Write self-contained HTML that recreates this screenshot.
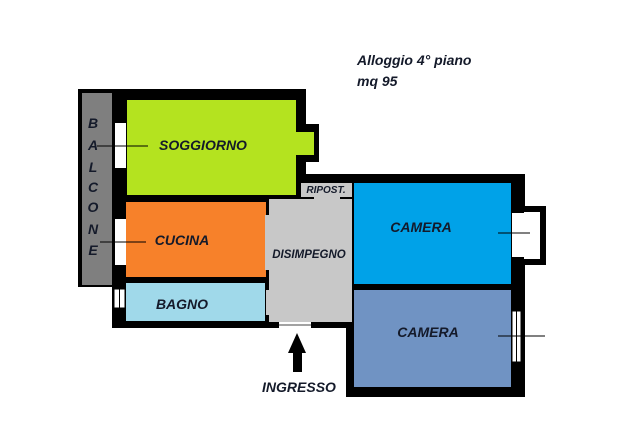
<!DOCTYPE html>
<html><head><style>
html,body{margin:0;padding:0;background:#fff;}
svg{display:block;}
text{font-family:"Liberation Sans",sans-serif;font-weight:bold;font-style:italic;fill:#141a2a;}
</style></head><body>
<svg width="620" height="444" viewBox="0 0 620 444" xmlns="http://www.w3.org/2000/svg">
<rect x="78" y="89" width="36" height="198" fill="#000"/>
<rect x="82" y="93" width="30" height="192" fill="#7f7f7f"/>
<rect x="112" y="89" width="194" height="239" fill="#000"/>
<rect x="296" y="124" width="23" height="38" fill="#000"/>
<rect x="296" y="89" width="10" height="110" fill="#000"/>
<rect x="127" y="100" width="169" height="95" fill="#b4e31f"/>
<rect x="290" y="132" width="24" height="23" fill="#b4e31f"/>
<rect x="126" y="202" width="140" height="75" fill="#f7812a"/>
<rect x="126" y="283" width="139" height="38" fill="#a0d9ea"/>
<rect x="306" y="174" width="219" height="25" fill="#000"/>
<rect x="346" y="174" width="179" height="223" fill="#000"/>
<rect x="301" y="183" width="51" height="14" fill="#c8c8c8"/>
<rect x="314" y="197" width="26" height="2" fill="#c8c8c8"/>
<rect x="269" y="199" width="83" height="123" fill="#c8c8c8"/>
<rect x="265" y="215" width="4" height="55" fill="#c8c8c8"/>
<rect x="266" y="290" width="3" height="25" fill="#c8c8c8"/>
<rect x="349" y="199" width="3" height="22" fill="#c8c8c8"/>
<rect x="354" y="183" width="157" height="101" fill="#00a2e8"/>
<rect x="354" y="290" width="157" height="97" fill="#7093c3"/>
<rect x="311" y="322" width="35" height="6" fill="#000"/>
<rect x="279" y="322" width="32" height="6" fill="#fff"/>
<line x1="279" y1="325" x2="311" y2="325" stroke="#444" stroke-width="1"/>
<rect x="524" y="206" width="22" height="59" fill="#000"/>
<rect x="524" y="212" width="16" height="47" fill="#fff"/>
<rect x="512" y="213" width="12" height="44" fill="#fff"/>
<line x1="498" y1="233" x2="530" y2="233" stroke="#000" stroke-width="1"/>
<rect x="512" y="311" width="9" height="51" fill="#fff" stroke="#000" stroke-width="1"/>
<line x1="516.5" y1="311" x2="516.5" y2="362" stroke="#000" stroke-width="1"/>
<line x1="498" y1="336" x2="545" y2="336" stroke="#000" stroke-width="1"/>
<rect x="115" y="123" width="11" height="45" fill="#fff"/>
<rect x="115" y="219" width="11" height="46" fill="#fff"/>
<rect x="114" y="289" width="11" height="19" fill="#fff" stroke="#000" stroke-width="1"/>
<line x1="119.5" y1="289" x2="119.5" y2="308" stroke="#000" stroke-width="1"/>
<line x1="97" y1="146" x2="148" y2="146" stroke="#000" stroke-width="1"/>
<line x1="100" y1="242" x2="146" y2="242" stroke="#000" stroke-width="1"/>
<polygon points="297,333 288,353 293,353 293,372 302,372 302,353 306,353" fill="#000"/>
<g font-size="14">
<text x="357" y="65">Alloggio 4° piano</text>
<text x="357" y="86">mq 95</text>
<text x="203" y="150" text-anchor="middle">SOGGIORNO</text>
<text x="182" y="245" text-anchor="middle">CUCINA</text>
<text x="182" y="309" text-anchor="middle">BAGNO</text>
<text x="421" y="232" text-anchor="middle">CAMERA</text>
<text x="428" y="337" text-anchor="middle">CAMERA</text>
<text x="299" y="392" text-anchor="middle">INGRESSO</text>
</g>
<text x="309" y="258" text-anchor="middle" font-size="11.5">DISIMPEGNO</text>
<text x="326" y="193" text-anchor="middle" font-size="10">RIPOST.</text>
<g font-size="14" text-anchor="middle">
<text x="93" y="128">B</text>
<text x="93" y="150">A</text>
<text x="93" y="172">L</text>
<text x="93" y="192">C</text>
<text x="93" y="212">O</text>
<text x="93" y="234">N</text>
<text x="93" y="255">E</text>
</g>
</svg>
</body></html>
